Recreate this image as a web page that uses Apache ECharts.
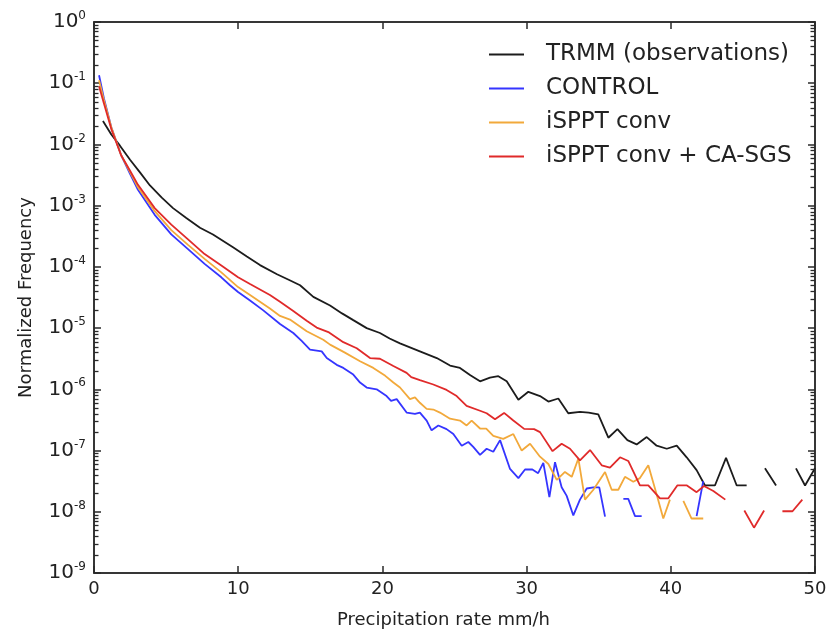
<!DOCTYPE html>
<html>
<head>
<meta charset="utf-8">
<script src="https://cdn.jsdelivr.net/npm/echarts@6/dist/echarts.min.js"></script>
<style>
html,body{margin:0;padding:0;background:#fff;}
#chart{width:837px;height:634px;}
</style>
</head>
<body>
<div id="chart"></div>
<script>
// ---- data (x = precipitation rate mm/h, y = normalized frequency) ----
const seriesNames = ['TRMM (observations)', 'CONTROL', 'iSPPT conv', 'iSPPT conv + CA-SGS'];
const xTicks = [0, 10, 20, 30, 40, 50];

const rateTRMM = [0.62, 1.2, 1.8, 2.5, 3.2, 3.88, 4.7, 5.48, 6.4, 7.35, 8.25, 9.64, 10.6, 11.51, 12.69, 13.5, 14.29, 15.21, 16.37, 17.2, 17.98, 18.91, 19.83, 20.5, 21.22, 22.6, 23.77, 24.69, 25.38, 26.1, 26.77, 27.46, 28.04, 28.62, 29.43, 30.12, 30.93, 31.51, 32.2, 32.89, 33.7, 34.3, 34.97, 35.67, 36.3, 36.99, 37.63, 38.33, 39.02, 39.72, 40.41, 41.1, 41.79, 42.37, 43.06, 43.83, 44.57, 45.26, 45.9, 46.53, 47.3, 48.0, 48.68, 49.31, 50.0];
const freqTRMM = [2.42e-2, 1.45e-2, 9.55e-3, 5.62e-3, 3.47e-3, 2.14e-3, 1.35e-3, 9.12e-4, 6.31e-4, 4.37e-4, 3.39e-4, 2.09e-4, 1.48e-4, 1.07e-4, 7.59e-5, 6.17e-5, 5.01e-5, 3.24e-5, 2.34e-5, 1.74e-5, 1.35e-5, 1.0e-5, 8.32e-6, 6.76e-6, 5.62e-6, 4.17e-6, 3.24e-6, 2.45e-6, 2.24e-6, 1.70e-6, 1.35e-6, 1.55e-6, 1.64e-6, 1.36e-6, 6.76e-7, 9.12e-7, 7.76e-7, 6.31e-7, 7.08e-7, 4.07e-7, 4.27e-7, 4.17e-7, 3.89e-7, 1.62e-7, 2.24e-7, 1.48e-7, 1.26e-7, 1.66e-7, 1.20e-7, 1.07e-7, 1.20e-7, 7.76e-8, 4.79e-8, 2.69e-8, 2.69e-8, 7.59e-8, 2.69e-8, 2.69e-8, null, 5.13e-8, 2.69e-8, null, 5.13e-8, 2.69e-8, 5.13e-8];

const rateCONTROL = [0.35, 0.69, 1.2, 1.89, 2.5, 3.05, 4.21, 5.36, 6.52, 7.67, 8.83, 9.43, 9.99, 10.82, 11.74, 12.9, 13.82, 14.4, 14.98, 15.79, 16.14, 16.83, 17.29, 17.98, 18.45, 18.91, 19.6, 20.29, 20.6, 20.99, 21.68, 22.26, 22.6, 23.07, 23.41, 23.88, 24.45, 24.92, 25.5, 25.96, 26.3, 26.77, 27.23, 27.69, 28.16, 28.85, 29.43, 29.89, 30.4, 30.8, 31.16, 31.58, 31.97, 32.43, 32.78, 33.24, 33.7, 34.17, 34.63, 35.04, 35.44, 36.1, 36.71, 37.05, 37.52, 37.98, 40.0, 41.79, 42.25];
const freqCONTROL = [1.35e-1, 5.62e-2, 1.91e-2, 6.61e-3, 3.31e-3, 1.82e-3, 7.08e-4, 3.39e-4, 1.95e-4, 1.12e-4, 6.76e-5, 5.01e-5, 3.89e-5, 2.82e-5, 1.95e-5, 1.17e-5, 8.32e-6, 6.17e-6, 4.47e-6, 4.17e-6, 3.24e-6, 2.51e-6, 2.24e-6, 1.74e-6, 1.29e-6, 1.07e-6, 1.00e-6, 7.76e-7, 6.46e-7, 6.92e-7, 4.17e-7, 3.98e-7, 4.17e-7, 3.09e-7, 2.14e-7, 2.57e-7, 2.24e-7, 1.86e-7, 1.20e-7, 1.38e-7, 1.15e-7, 8.51e-8, 1.07e-7, 9.55e-8, 1.48e-7, 5.01e-8, 3.55e-8, 4.90e-8, 4.90e-8, 4.27e-8, 6.31e-8, 1.74e-8, 6.46e-8, 2.51e-8, 1.82e-8, 8.71e-9, 1.58e-8, 2.40e-8, 2.51e-8, 2.51e-8, 8.32e-9, null, 1.62e-8, 1.62e-8, 8.51e-9, 8.51e-9, null, 8.51e-9, 3.16e-8];

const rateISPPT = [0.35, 0.69, 1.2, 1.89, 2.5, 3.05, 4.21, 5.36, 6.52, 7.67, 8.83, 9.99, 10.82, 12.2, 12.9, 13.59, 14.75, 15.9, 16.37, 17.4, 18.45, 19.37, 20.2, 20.76, 21.22, 21.91, 22.26, 22.6, 23.07, 23.53, 23.99, 24.69, 25.38, 25.84, 26.19, 26.77, 27.2, 27.69, 28.38, 29.08, 29.66, 30.24, 30.93, 31.51, 32.09, 32.66, 33.13, 33.59, 34.05, 34.63, 35.44, 35.9, 36.36, 36.82, 37.4, 37.86, 38.44, 39.02, 39.48, 39.94, 40.4, 40.87, 41.44, 42.25];
const freqISPPT = [1.12e-1, 5.25e-2, 1.91e-2, 6.61e-3, 3.55e-3, 2.00e-3, 8.13e-4, 3.98e-4, 2.29e-4, 1.35e-4, 8.13e-5, 4.68e-5, 3.47e-5, 2.09e-5, 1.58e-5, 1.38e-5, 8.91e-6, 6.46e-6, 5.37e-6, 3.98e-6, 2.88e-6, 2.24e-6, 1.66e-6, 1.29e-6, 1.07e-6, 6.92e-7, 7.41e-7, 6.03e-7, 4.79e-7, 4.68e-7, 4.17e-7, 3.31e-7, 3.09e-7, 2.57e-7, 3.09e-7, 2.29e-7, 2.29e-7, 1.74e-7, 1.55e-7, 1.86e-7, 1.00e-7, 1.29e-7, 7.94e-8, 6.03e-8, 3.31e-8, 4.47e-8, 3.72e-8, 7.41e-8, 1.58e-8, 2.29e-8, 4.47e-8, 2.29e-8, 2.29e-8, 3.72e-8, 3.09e-8, 3.55e-8, 5.75e-8, 1.91e-8, 7.76e-9, 1.58e-8, null, 1.51e-8, 7.76e-9, 7.76e-9];

const rateCASGS = [0.35, 0.69, 1.2, 1.89, 2.5, 3.05, 4.21, 5.36, 6.52, 7.67, 8.83, 9.99, 10.82, 12.2, 12.9, 13.82, 14.75, 15.44, 16.3, 17.29, 18.22, 19.14, 19.83, 20.76, 21.68, 22.0, 22.6, 23.53, 24.45, 25.15, 25.84, 26.77, 27.23, 27.81, 28.44, 29.08, 29.83, 30.52, 30.93, 31.8, 32.43, 33.01, 33.7, 34.4, 35.21, 35.78, 36.48, 37.05, 37.86, 38.44, 39.25, 39.83, 40.45, 41.12, 41.79, 42.3, 42.95, 43.78, 44.45, 45.1, 45.77, 46.47, 47.1, 47.74, 48.44, 49.12];
const freqCASGS = [8.91e-2, 4.68e-2, 1.78e-2, 6.61e-3, 3.72e-3, 2.19e-3, 9.12e-4, 4.90e-4, 2.82e-4, 1.62e-4, 1.05e-4, 6.76e-5, 5.25e-5, 3.47e-5, 2.69e-5, 1.91e-5, 1.32e-5, 1.02e-5, 8.51e-6, 5.89e-6, 4.68e-6, 3.24e-6, 3.16e-6, 2.40e-6, 1.86e-6, 1.58e-6, 1.41e-6, 1.20e-6, 9.77e-7, 7.76e-7, 5.37e-7, 4.47e-7, 4.07e-7, 3.24e-7, 4.12e-7, 3.09e-7, 2.26e-7, 2.24e-7, 2.00e-7, 9.77e-8, 1.29e-7, 1.07e-7, 6.92e-8, 1.02e-7, 5.75e-8, 5.25e-8, 7.76e-8, 6.76e-8, 2.69e-8, 2.69e-8, 1.66e-8, 1.66e-8, 2.69e-8, 2.69e-8, 2.09e-8, 2.63e-8, 2.19e-8, 1.58e-8, null, 1.05e-8, 5.50e-9, 1.05e-8, null, 1.02e-8, 1.02e-8, 1.58e-8];

const seriesColors = ['#1c1c1c', '#3535ff', '#f2a93b', '#e02a2a'];

// ---------------------------------------------------------------
function pairs(xs, ys) {
  return xs.map((x, i) => [x, ys[i] == null ? '-' : ys[i]]);
}
const FONT = 'DejaVu Sans';
const minorTickValues = [];
for (let e = -9; e < 0; e++) {
  for (let m = 2; m <= 9; m++) minorTickValues.push(m * Math.pow(10, e));
}

const chart = echarts.init(document.getElementById('chart'), null, {renderer: 'canvas'});
const lineSeries = [
  [rateTRMM, freqTRMM], [rateCONTROL, freqCONTROL], [rateISPPT, freqISPPT], [rateCASGS, freqCASGS]
].map((d, i) => ({
  name: seriesNames[i],
  type: 'line',
  data: pairs(d[0], d[1]),
  symbol: 'none',
  connectNulls: false,
  lineStyle: {color: seriesColors[i], width: 1.8},
  itemStyle: {color: seriesColors[i]},
  z: 3 + (i === 0 ? 0 : i),
  animation: false
}));

function axisFrame(extra) {
  return Object.assign({
    axisLine: {show: true, onZero: false, lineStyle: {color: '#2a2a2a', width: 1.5}},
    axisTick: {show: true, inside: true, length: 7, lineStyle: {color: '#2a2a2a', width: 1.5}},
    splitLine: {show: false}
  }, extra);
}

const option = {
  animation: false,
  backgroundColor: '#fff',
  textStyle: {fontFamily: FONT},
  grid: {left: 94, right: 22, top: 22, bottom: 55, show: true, borderColor: '#2a2a2a', borderWidth: 1.5, backgroundColor: 'transparent'},
  legend: {
    orient: 'vertical',
    left: 484,
    top: 38,
    itemWidth: 35,
    itemHeight: 14,
    itemGap: 11,
    icon: 'path://M0,0 L35,0 L35,2 L0,2 Z',
    data: seriesNames,
    textStyle: {fontFamily: FONT, fontSize: 23, color: '#222', padding: [0, 0, 0, 17]}
  },
  xAxis: [axisFrame({
    type: 'value', min: 0, max: 50, interval: 10,
    name: 'Precipitation rate mm/h', nameLocation: 'middle', nameGap: 38,
    nameTextStyle: {fontFamily: FONT, fontSize: 18, color: '#222', padding: [0, 22, 0, 0]},
    axisLabel: {fontFamily: FONT, fontSize: 18, color: '#222', margin: 7}
  }), axisFrame({
    type: 'value', min: 0, max: 50, interval: 10, position: 'top',
    axisLabel: {show: false}
  })],
  yAxis: [axisFrame({
    type: 'log', logBase: 10, min: 1e-9, max: 1, splitNumber: 9, position: 'left',
    name: 'Normalized Frequency', nameLocation: 'middle', nameGap: 59,
    nameTextStyle: {fontFamily: FONT, fontSize: 18, color: '#222'},
    axisLabel: {
      margin: 8,
      formatter: function (v) {
        const e = Math.round(Math.log10(v));
        return '{b|10}{s|' + e + '}';
      },
      rich: {
        b: {fontFamily: FONT, fontSize: 20, color: '#222'},
        s: {fontFamily: FONT, fontSize: 12, color: '#222', padding: [0, 0, 12, 0]}
      }
    }
  }), axisFrame({
    type: 'log', logBase: 10, min: 1e-9, max: 1, splitNumber: 9, position: 'right',
    axisLabel: {show: false}
  })],
  series: lineSeries
};
chart.setOption(option);

// minor log ticks (2..9 x 10^n) on left and right, positioned through the y scale
const xL = chart.convertToPixel({xAxisIndex: 0}, 0);
const xR = chart.convertToPixel({xAxisIndex: 0}, 50);
const tickEls = [];
minorTickValues.forEach(v => {
  const y = Math.round(chart.convertToPixel({yAxisIndex: 0}, v)) + 0.5;
  tickEls.push({type: 'line', shape: {x1: xL, y1: y, x2: xL + 4.5, y2: y}, style: {stroke: '#2a2a2a', lineWidth: 1.3}, silent: true, z: 10});
  tickEls.push({type: 'line', shape: {x1: xR, y1: y, x2: xR - 4.5, y2: y}, style: {stroke: '#2a2a2a', lineWidth: 1.3}, silent: true, z: 10});
});
chart.setOption({graphic: tickEls});
</script>
</body>
</html>
